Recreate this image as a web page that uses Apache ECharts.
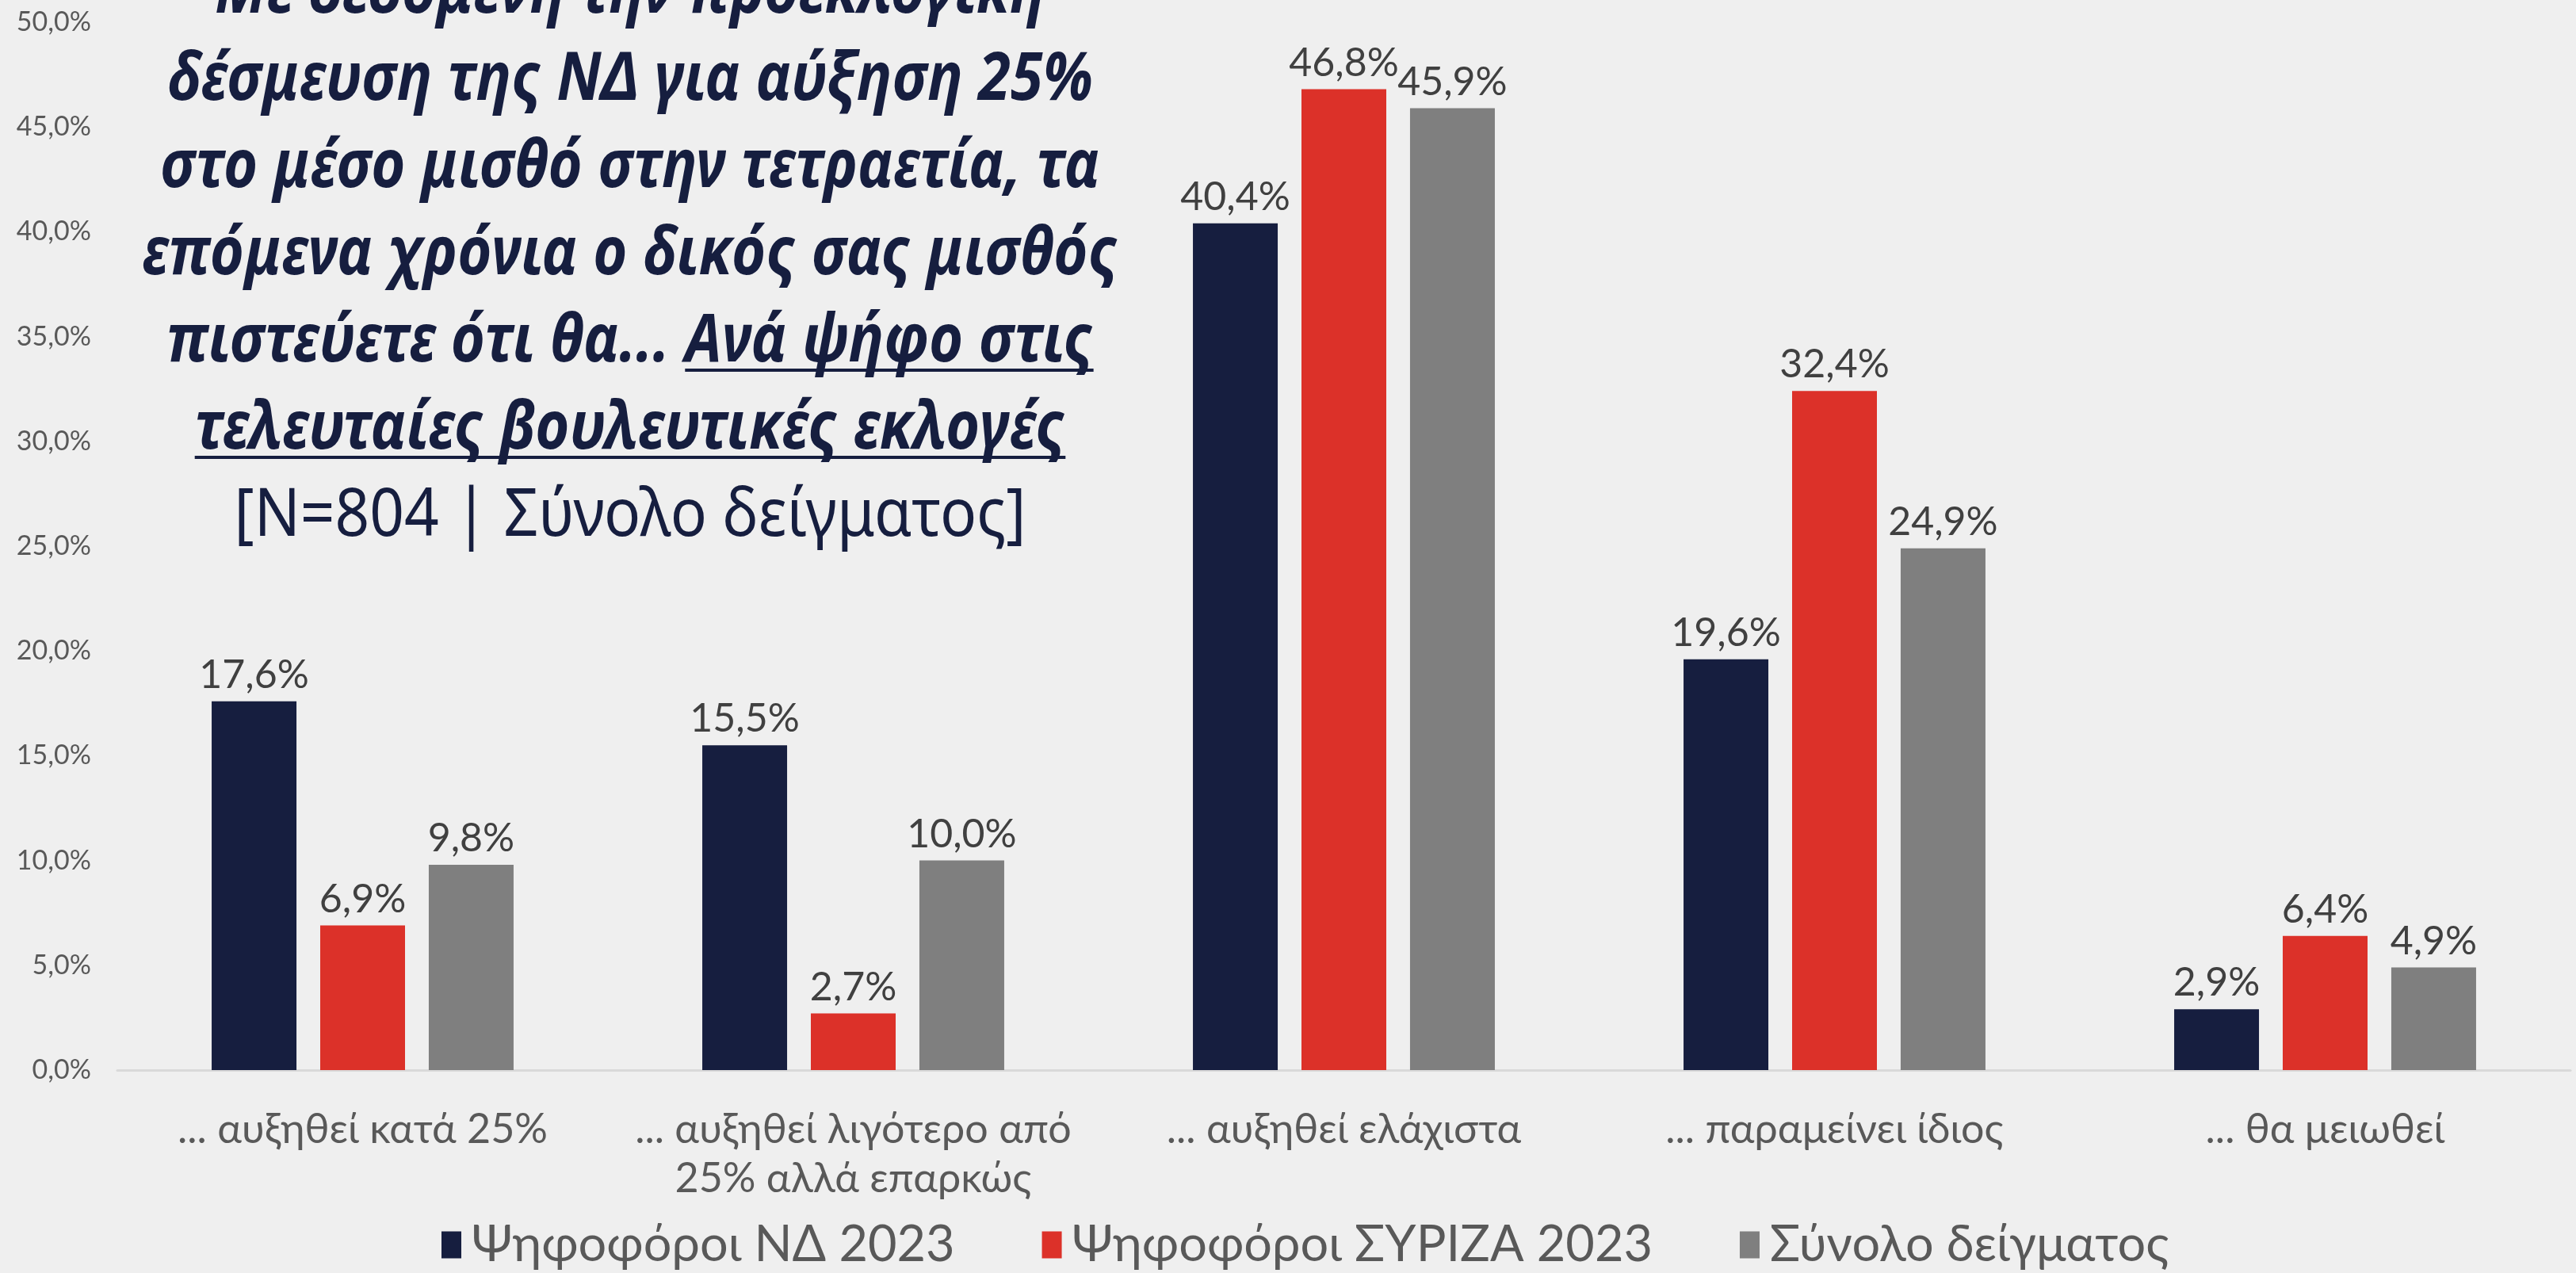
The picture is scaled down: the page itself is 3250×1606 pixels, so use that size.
<!DOCTYPE html>
<html>
<head>
<meta charset="utf-8">
<script src="https://cdn.jsdelivr.net/npm/echarts@6/dist/echarts.min.js"></script>
<style>
  html, body { margin: 0; padding: 0; background: #efefef; }
  #chart { width: 3250px; height: 1606px; }
</style>
</head>
<body>
<div id="chart"></div>
<script>
const categories = [
  "... αυξηθεί κατά 25%",
  "... αυξηθεί λιγότερο από\n25% αλλά επαρκώς",
  "... αυξηθεί ελάχιστα",
  "... παραμείνει ίδιος",
  "... θα μειωθεί"
];
const seriesNames = ["Ψηφοφόροι ΝΔ 2023", "Ψηφοφόροι ΣΥΡΙΖΑ 2023", "Σύνολο δείγματος"];
const ndValues = [17.6, 15.5, 40.4, 19.6, 2.9];
const syrizaValues = [6.9, 2.7, 46.8, 32.4, 6.4];
const totalValues = [9.8, 10.0, 45.9, 24.9, 4.9];
const yMin = 0, yMax = 50, yStep = 5;

const titleLines = [
  "Με δεδομένη την προεκλογική",
  "δέσμευση της ΝΔ για αύξηση 25%",
  "στο μέσο μισθό στην τετραετία, τα",
  "επόμενα χρόνια ο δικός σας μισθός",
  "πιστεύετε ότι θα... Ανά ψήφο στις",
  "τελευταίες βουλευτικές εκλογές",
  "[N=804 | Σύνολο δείγματος]"
];

const colors = ["#161e3f", "#dc3129", "#7f7f7f"];
const navy = "#161e3f";
const fmt = v => v.toFixed(1).replace(".", ",") + "%";

// title block (drawn as graphic text so parts can be underlined)
const titleCx = 795, titleY0 = -8, titleStep = 110, titleSize = 84;
const boldScale = 0.88, plainScale = 0.91;
const boldFont = "italic bold " + titleSize + "px 'Noto Sans'";
const plainFont = titleSize + "px 'Noto Sans'";
const ctx = document.createElement("canvas").getContext("2d");
function textW(t, f) { ctx.font = f; return ctx.measureText(t).width * boldScale; }

const graphics = [];
titleLines.forEach((t, i) => {
  const last = i === titleLines.length - 1;
  graphics.push({
    type: "text", x: titleCx, y: titleY0 + titleStep * i, scaleX: last ? plainScale : boldScale,
    style: { text: t, font: last ? plainFont : boldFont, fill: navy,
             textAlign: "center", textVerticalAlign: "middle",
             align: "center", verticalAlign: "middle" }
  });
});
function underline(lineIdx, fromX, width) {
  graphics.push({
    type: "rect",
    shape: { x: fromX, y: titleY0 + titleStep * lineIdx + 33, width: width, height: 4 },
    style: { fill: navy }
  });
}
{
  const full5 = textW(titleLines[4], boldFont);
  const pre5 = textW("πιστεύετε ότι θα... ", boldFont);
  underline(4, titleCx - full5 / 2 + pre5, full5 - pre5);
  const full6 = textW(titleLines[5], boldFont);
  underline(5, titleCx - full6 / 2, full6);
}

const chart = echarts.init(document.getElementById("chart"));
const labelOpt = {
  show: true, position: "top", distance: 8,
  fontFamily: "Lato", fontSize: 50, color: "#404040",
  formatter: p => fmt(p.value)
};
function barSeries(name, data, idx) {
  return {
    name: name, type: "bar", data: data,
    barWidth: 107, barGap: "28%",
    itemStyle: { color: colors[idx] },
    label: labelOpt
  };
}

chart.setOption({
  backgroundColor: "#efefef",
  animation: false,
  grid: { left: 148, right: 7, top: 28, bottom: 256 },
  legend: {
    data: seriesNames,
    left: 552, top: 1534,
    icon: "rect", itemWidth: 25, itemHeight: 34, itemGap: 110,
    textStyle: { fontFamily: "Lato", fontSize: 63, color: "#595959", padding: [0, 0, 0, 8] }
  },
  xAxis: {
    type: "category", data: categories,
    axisLine: { show: true, lineStyle: { color: "#d9d9d9", width: 3 } },
    axisTick: { show: false },
    axisLabel: { fontFamily: "Lato", fontSize: 52, lineHeight: 62, color: "#595959", margin: 44, interval: 0 }
  },
  yAxis: {
    type: "value", min: yMin, max: yMax, interval: yStep,
    axisLine: { show: false }, axisTick: { show: false },
    splitLine: { show: false },
    axisLabel: { fontFamily: "Lato", fontSize: 34, color: "#595959", margin: 33, formatter: v => fmt(v) }
  },
  series: [
    barSeries(seriesNames[0], ndValues, 0),
    barSeries(seriesNames[1], syrizaValues, 1),
    barSeries(seriesNames[2], totalValues, 2)
  ],
  graphic: graphics
});
</script>
</body>
</html>
